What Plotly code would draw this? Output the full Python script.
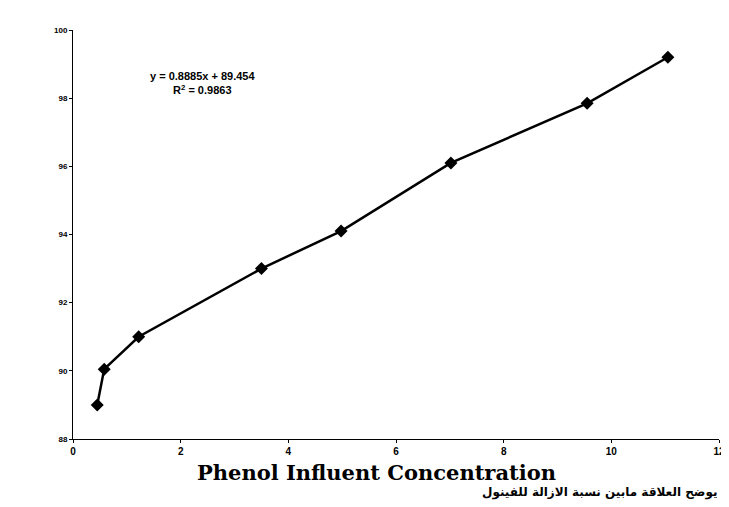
import plotly.graph_objects as go

# phenol influent concentration vs removal (%)
influent = [0.45, 0.58, 1.22, 3.5, 4.98, 7.02, 9.55, 11.05]
removal = [89.0, 90.05, 91.0, 93.0, 94.1, 96.1, 97.85, 99.2]

x_ticks = [0, 2, 4, 6, 8, 10, 12]
y_ticks = [88, 90, 92, 94, 96, 98, 100]

eq_text = "<b>y = 0.8885x + 89.454<br>R<sup>2</sup> = 0.9863</b>"
x_title = "Phenol Influent Concentration"
ar_caption = "يوضح العلاقة مابين نسبة الازالة للفينول"

fig = go.Figure(go.Scatter(
    x=influent,
    y=removal,
    mode="lines+markers",
    line=dict(color="black", width=2.5),
    marker=dict(symbol="diamond", size=10, color="black"),
    showlegend=False,
))

fig.update_xaxes(
    range=[0, 12],
    tickvals=x_ticks,
    showgrid=False,
    zeroline=False,
    showline=True,
    linecolor="black",
    linewidth=1,
    ticks="outside",
    ticklen=3,
    tickcolor="black",
    tickfont=dict(family="Liberation Sans, Arial", size=10, color="black", weight="bold"),
)
fig.update_yaxes(
    range=[88, 100],
    tickvals=y_ticks,
    showgrid=False,
    zeroline=False,
    showline=True,
    linecolor="black",
    linewidth=1,
    ticks="outside",
    ticklen=3,
    tickcolor="black",
    tickfont=dict(family="Liberation Sans, Arial", size=8, color="black", weight="bold"),
)

fig.update_layout(
    width=729,
    height=507,
    margin=dict(l=65, r=12, t=22, b=76),
    paper_bgcolor="white",
    plot_bgcolor="white",
    annotations=[
        dict(
            text=eq_text, x=2.4, y=98.45, xref="x", yref="y",
            showarrow=False, align="center",
            font=dict(family="Liberation Sans, Arial", size=11, color="black"),
        ),
        dict(
            text="<b>" + x_title + "</b>", x=0.47, y=-0.047, xref="paper", yref="paper",
            xanchor="center", yanchor="top", showarrow=False,
            font=dict(family="DejaVu Serif", size=21, color="black"),
        ),
        dict(
            text="<b>" + ar_caption + "</b>", x=1.0, y=-0.155, xref="paper", yref="paper",
            xanchor="right", yanchor="bottom", showarrow=False,
            font=dict(family="DejaVu Sans, Noto Sans", size=12, color="black"),
        ),
    ],
)

fig.write_html("out.html")
